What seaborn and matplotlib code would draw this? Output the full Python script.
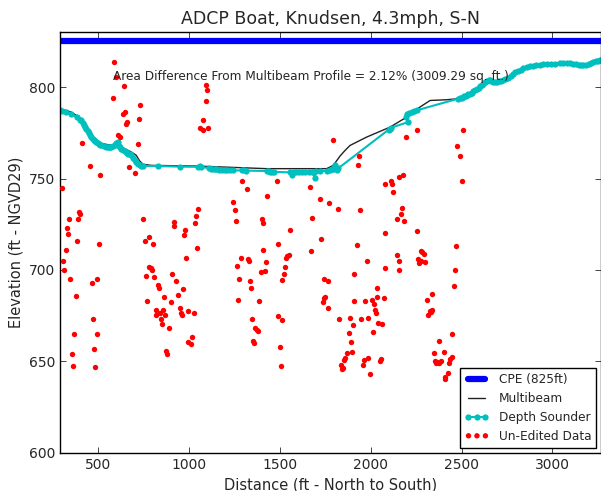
import numpy as np
import pandas as pd
import matplotlib
matplotlib.use("Agg")
import matplotlib.pyplot as plt
import seaborn as sns

# CPE reference elevation
cpe_x = [289, 3268]
cpe_y = [825, 825]

# Multibeam profile
mb_x = [287, 320, 351, 380, 398, 425, 453, 480, 508, 553, 608, 645, 682, 709, 728, 746,
        792, 1049, 1427, 1757, 1794, 1831, 1859, 1886, 1978, 2106, 2198, 2271, 2327,
        2418, 2482, 2529, 2604, 2657, 2685, 2730, 2785, 2877, 2950, 3042, 3116, 3171,
        3226, 3268]
mb_y = [788.2, 787.3, 786.3, 784.5, 783.0, 780.0, 775.4, 771.8, 769.4, 768.5, 767.8,
        766.3, 764.5, 762.7, 759.6, 757.8, 757.2, 756.8, 755.4, 755.4, 757.2, 762.3,
        765.4, 768.1, 772.7, 778.1, 783.6, 789.1, 792.7, 793.1, 793.7, 795.5, 800.5,
        804.0, 802.7, 803.7, 807.3, 811.3, 812.4, 813.1, 812.8, 811.9, 813.7, 815.1]

# Depth sounder
ds_x = [289, 300, 320, 351, 380, 400, 406, 414, 420, 427, 434, 441, 448, 455, 461, 468,
        475, 482, 489, 496, 503, 510, 517, 530, 544, 551, 558, 565, 572, 581, 590, 600,
        608, 613, 618, 627, 636, 645, 650, 657, 664, 673, 682, 691, 700, 710, 719, 728,
        737, 745, 829, 950, 1050, 1060, 1067, 1110, 1120, 1130, 1140, 1150, 1165, 1180,
        1195, 1210, 1225, 1243, 1290, 1300, 1315, 1427, 1440, 1445, 1455, 1470, 1555,
        1565, 1575, 1590, 1605, 1620, 1640, 1660, 1675, 1683, 1692, 1700, 1720, 1757,
        1775, 1785, 1794, 1803, 1812, 1820, 2100, 2106, 2112, 2207, 2195, 2198, 2210,
        2225, 2240, 2253, 2482, 2490, 2500, 2508, 2515, 2522, 2529, 2538, 2547, 2556,
        2565, 2575, 2585, 2595, 2604, 2612, 2620, 2630, 2640, 2650, 2657, 2665, 2675,
        2685, 2695, 2705, 2718, 2730, 2742, 2755, 2770, 2785, 2797, 2810, 2825, 2840,
        2858, 2877, 2893, 2910, 2930, 2950, 2970, 2990, 3015, 3042, 3060, 3080, 3098,
        3116, 3130, 3145, 3158, 3171, 3185, 3200, 3213, 3226, 3238, 3250, 3260, 3268]
ds_y = [787.3, 787.0, 786.2, 785.5, 783.5, 782.2, 781.8, 780.5, 779.5, 778.3, 777.3,
        776.0, 774.8, 773.7, 772.7, 771.8, 771.0, 770.4, 770.0, 769.3, 768.7, 768.4,
        768.1, 767.6, 767.2, 767.0, 767.2, 767.0, 767.2, 767.8, 768.5, 769.3, 770.0,
        768.0, 767.2, 766.3, 765.4, 764.8, 764.4, 764.0, 763.6, 763.2, 762.7, 761.5,
        760.0, 759.0, 758.1, 757.4, 756.8, 756.9, 756.8, 756.5, 756.4, 756.6, 756.3,
        755.7, 755.3, 755.2, 755.0, 755.0, 754.9, 754.8, 754.7, 754.6, 754.5, 754.5,
        754.4, 754.4, 754.3, 754.1, 754.0, 753.6, 753.8, 753.6, 753.4, 751.7, 753.6,
        753.6, 753.7, 753.7, 753.8, 753.8, 753.8, 753.6, 750.5, 754.0, 754.1, 754.1,
        754.5, 755.0, 755.4, 757.2, 754.5, 755.5, 776.8, 777.3, 777.8, 780.9, 783.5,
        785.5, 786.0, 786.5, 787.0, 787.3, 793.7, 794.0, 794.3, 794.7, 795.0, 795.2,
        795.5, 796.0, 796.4, 797.0, 797.8, 798.4, 799.0, 799.8, 800.5, 801.2, 801.9,
        802.8, 803.6, 804.0, 804.0, 803.2, 802.8, 802.7, 803.0, 803.3, 803.5, 803.7,
        804.4, 805.2, 806.3, 807.3, 808.1, 808.8, 809.5, 810.2, 810.8, 811.3, 811.6,
        811.9, 812.2, 812.4, 812.6, 812.7, 812.9, 813.1, 813.2, 813.2, 813.0, 812.8,
        812.6, 812.3, 812.0, 811.9, 812.2, 812.7, 813.2, 813.7, 814.1, 814.5, 814.8,
        815.1]

# Un-edited raw returns
raw_x = [588, 597, 643, 583, 730, 647, 638, 656, 652, 724, 607, 621, 720, 409, 454, 509,
         669, 702, 302, 1093, 1100, 1091, 1078, 1060, 1075, 1106, 1794, 1293, 1317, 1482,
         1427, 1666, 1721, 1771, 1819, 1244, 1253, 1259, 1400, 1405, 1679, 1051, 1036,
         1032, 748, 918, 915, 341, 390, 394, 401, 326,
         335, 381, 505, 323, 307, 313, 346, 494, 464, 376, 473, 491, 366, 478, 357, 362,
         482, 757, 781, 800, 779, 790, 797, 761, 805, 826, 836, 766, 863, 900, 907, 926,
         968, 937, 950, 955, 959, 992, 1029, 819, 855, 817, 842, 868, 845, 849, 889, 875,
         879, 977, 973, 1042, 983, 1014, 996, 1009, 1284, 1323, 1330, 1264, 1409, 1422,
         1394, 1418, 1277, 1334, 1339, 1271, 1386, 1553, 1487, 1541, 1531, 1548, 1527,
         1523, 1514, 1727, 1670, 1745, 1767, 1745, 1737, 1749, 1762, 1828, 1887, 1904,
         1881, 1890, 1908, 1908, 1345, 1363, 1372, 1381, 1354, 1359, 1492, 1510, 1501,
         1504, 1896, 1872, 1860, 1853, 1836, 1841, 1847,
         1936, 1929, 2253, 2194, 2473, 2492, 2510, 2505, 2179, 2158, 2112, 2119, 2078,
         2124, 1943, 2174, 2165, 2143, 2185, 2257, 2076, 1923, 2468, 2147, 2156, 2153,
         2079, 1977, 2275, 2283, 2292, 2298, 2261, 2275, 2267, 2463, 2458, 2037, 2035,
         2005, 2018, 1969, 2071, 2022, 2028, 1983, 1947, 2042, 2064, 2012, 2335, 2310,
         2339, 2330, 2317, 2326, 2449, 2377, 1965, 1987, 1960, 1997, 2052, 2058, 2350,
         2401, 2446, 2437, 2354, 2360, 2367, 2377, 2385, 2431, 2424, 2411, 2407]
raw_y = [813.7, 805.5, 800.5, 794.0, 790.4, 786.3, 785.5, 781.0, 780.0, 782.7, 774.0,
         772.6, 768.7, 769.6, 757.0, 752.0, 756.3, 753.2, 744.8, 801.0, 798.7, 792.2,
         781.8, 777.8, 776.7, 777.8, 770.9, 748.6, 744.0, 748.6, 740.4, 745.4, 739.0,
         736.8, 733.5, 737.3, 732.8, 726.8, 727.7, 725.8, 728.4, 733.2, 729.7, 725.4,
         727.6, 726.3, 724.1, 727.6, 727.6, 731.7, 730.4, 722.8,
         719.9, 715.7, 714.0, 710.8, 705.0, 700.2, 694.9, 695.3, 692.6, 685.8, 673.4,
         664.9, 665.2, 656.8, 653.8, 647.5, 647.0, 715.7, 718.2, 714.0, 701.6, 701.3,
         700.2, 696.7, 696.2, 691.6, 690.2, 682.9, 685.2, 682.5, 697.8, 693.8, 689.3,
         686.2, 679.2, 676.2, 675.2, 677.6, 676.2, 678.0, 678.0, 675.4, 676.2, 675.6,
         672.9, 670.3, 668.0, 655.6, 653.8, 721.7, 719.3, 711.8, 706.6, 663.1, 660.3,
         659.4, 706.4, 706.2, 704.9, 702.0, 711.1, 704.4, 698.7, 699.3, 695.3, 694.0,
         690.2, 683.5, 683.1, 721.7, 714.0, 707.8, 706.6, 708.2, 701.6, 698.0, 694.5,
         716.8, 710.3, 694.9, 694.0, 684.4, 682.5, 685.2, 679.2, 673.4, 673.8, 669.8,
         665.6, 660.3, 682.9, 697.5, 673.4, 668.3, 667.4, 666.5, 661.2, 660.1, 674.9,
         672.5, 658.0, 647.6, 655.2, 654.6, 651.6, 650.6, 647.9, 645.6, 646.1,
         762.4, 757.3, 776.4, 772.8, 767.9, 762.4, 776.4, 748.7, 752.2, 750.7, 748.9,
         746.8, 746.8, 742.6, 732.6, 733.7, 730.8, 727.6, 727.0, 721.4, 720.3, 713.5,
         713.0, 708.4, 704.9, 699.8, 700.8, 704.9, 710.2, 709.8, 708.6, 704.4, 705.7,
         704.8, 703.9, 699.8, 691.0, 690.3, 685.4, 683.5, 681.6, 682.9, 684.4, 677.9,
         676.6, 673.8, 672.9, 671.2, 670.3, 665.8, 686.7, 683.8, 678.0, 677.1, 675.2,
         677.4, 665.2, 661.0, 650.9, 652.0, 647.9, 643.3, 650.1, 651.0, 654.6, 655.2,
         652.4, 651.1, 650.1, 649.2, 649.8, 648.9, 650.3, 648.9, 643.4, 641.2, 640.3]

area_text = "Area Difference From Multibeam Profile = 2.12% (3009.29 sq. ft.)"

sns.set_style("ticks", {"xtick.direction": "in", "ytick.direction": "in",
                        "xtick.top": True, "ytick.right": True,
                        "axes.edgecolor": "black"})
plt.rcParams['font.family'] = ['DejaVu Sans']

fig = plt.figure(figsize=(6.01, 4.91), dpi=100)
ax = fig.add_axes([60 / 601, 38.3 / 491, 541 / 601, 420.4 / 491])

sns.lineplot(x=cpe_x, y=cpe_y, color="#0000ff", linewidth=4.5, label="CPE (825ft)", ax=ax)
sns.lineplot(x=mb_x, y=mb_y, color="#222222", linewidth=1.0, sort=False,
             estimator=None, label="Multibeam", ax=ax)
sns.lineplot(x=ds_x, y=ds_y, color="#00bfbf", linewidth=1.5, sort=False, estimator=None,
             marker="o", markersize=4.5, markeredgewidth=0, label="Depth Sounder", ax=ax)
sns.scatterplot(x=raw_x, y=raw_y, color="#ff0000", s=15, linewidth=0,
                label="Un-Edited Data", ax=ax, zorder=3)

ax.text(581, 805.8, area_text, fontsize=8.7, va="center", ha="left")

ax.set_xlim(289, 3268)
ax.set_ylim(600, 830)
ax.set_xticks([500, 1000, 1500, 2000, 2500, 3000])
ax.set_yticks([600, 650, 700, 750, 800])
ax.tick_params(labelsize=10, length=4, width=0.6)
for sp in ax.spines.values():
    sp.set_linewidth(1.0)

ax.set_title("ADCP Boat, Knudsen, 4.3mph, S-N", fontsize=12.5)
ax.set_xlabel("Distance (ft - North to South)", fontsize=10.5)
ax.set_ylabel("Elevation (ft - NGVD29)", fontsize=10.5)

leg = ax.legend(loc="lower right", fontsize=8.7, numpoints=3, scatterpoints=3,
                scatteryoffsets=[0.5], fancybox=False, framealpha=1,
                edgecolor="black", borderaxespad=0.4)
leg.get_frame().set_linewidth(1.0)

fig.savefig("out.png", dpi=100)
